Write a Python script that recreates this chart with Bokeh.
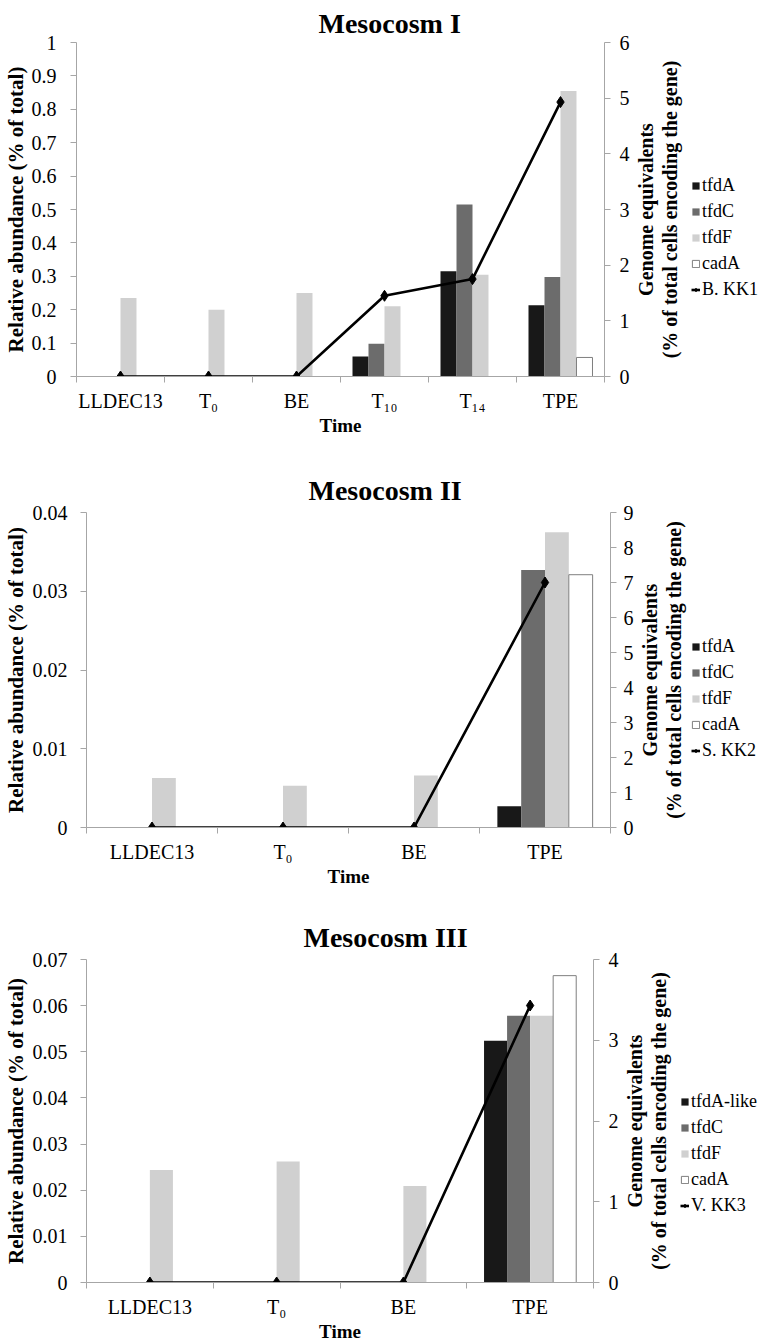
from bokeh.plotting import figure
from bokeh.models import (Range1d, LinearAxis, FixedTicker, Legend, LegendItem,
                          NumeralTickFormatter, Title)
from bokeh.layouts import column, row
from bokeh.embed import file_html
from bokeh.resources import INLINE

# ---------------- data ----------------
cats1 = ["LLDEC13", "T₀", "BE", "T₁₀", "T₁₄", "TPE"]
m1_tfdA = [0, 0, 0, 0.06, 0.315, 0.213]
m1_tfdC = [0, 0, 0, 0.098, 0.515, 0.298]
m1_tfdF = [0.235, 0.2, 0.25, 0.21, 0.305, 0.855]
m1_cadA = [0, 0, 0, 0, 0, 0.057]
m1_kk1 = [0, 0, 0, 1.45, 1.75, 4.93]

cats2 = ["LLDEC13", "T₀", "BE", "TPE"]
m2_tfdA = [0, 0, 0, 0.0027]
m2_tfdC = [0, 0, 0, 0.0327]
m2_tfdF = [0.0063, 0.0053, 0.0066, 0.0375]
m2_cadA = [0, 0, 0, 0.0321]
m2_kk2 = [0, 0, 0, 7.0]

cats3 = ["LLDEC13", "T₀", "BE", "TPE"]
m3_tfdA = [0, 0, 0, 0.0524]
m3_tfdC = [0, 0, 0, 0.0578]
m3_tfdF = [0.0244, 0.0262, 0.0209, 0.0578]
m3_cadA = [0, 0, 0, 0.0665]
m3_kk3 = [0, 0, 0, 3.43]

FONT = "Liberation Serif"
AX = "#a6a6a6"
COLORS = ["#181818", "#6c6c6c", "#d0d0d0", "#ffffff"]
OFFS = [-0.2727, -0.0909, 0.0909, 0.2727]
BW = 0.1818


def draw(p, n, series, kk):
    rends = []
    for vals, c, o in zip(series, COLORS, OFFS):
        xs = [i + 0.5 + o for i in range(n)]
        if c == "#ffffff":
            r = p.vbar(x=xs, top=vals, bottom=0, width=BW, fill_color=c,
                       line_color="#7f7f7f", line_width=1)
        else:
            r = p.vbar(x=xs, top=vals, bottom=0, width=BW, fill_color=c,
                       line_color=None)
        rends.append(r)
    xc = [i + 0.5 for i in range(n)]
    lr = p.line(x=xc, y=kk, y_range_name="r", line_color="black", line_width=2.6)
    sr = p.scatter(x=xc, y=kk, y_range_name="r", marker="diamond", size=11,
                   fill_color="black", line_color="black")
    return rends, lr, sr


def title_style(t, size, standoff):
    t.text_font = FONT
    t.text_font_size = size
    t.text_font_style = "bold"
    t.text_color = "black"
    t.standoff = standoff


def panel(title, cats, series, labels, kk, kk_label, ymax, yticks, rmax,
          fw, fh, left, top, right, title_std, title_off,
          ytl_std, ylab_std, rtl_std, side_w, leg_x, leg_y):
    n = len(cats)
    bottom = 62
    p = figure(frame_width=fw, frame_height=fh,
               x_range=Range1d(0, n), y_range=Range1d(0, ymax),
               output_backend="svg", toolbar_location=None,
               min_border_left=left, min_border_top=top,
               min_border_bottom=bottom, min_border_right=right)
    p.extra_y_ranges = {"r": Range1d(0, rmax)}
    p.outline_line_color = None
    p.xgrid.visible = False
    p.ygrid.visible = False
    p.title.text = title
    p.title.align = "left"
    p.title.offset = title_off
    title_style(p.title, "28px", title_std)

    draw(p, n, series, kk)
    xc = [i + 0.5 for i in range(n)]

    xa = p.xaxis[0]
    xa.ticker = FixedTicker(ticks=xc, minor_ticks=list(range(n + 1)))
    xa.major_label_overrides = {x: c for x, c in zip(xc, cats)}
    xa.major_tick_out = 0
    xa.major_tick_in = 0
    xa.minor_tick_out = 6
    xa.minor_tick_in = 0
    xa.axis_label = "Time"

    ya = p.yaxis[0]
    ya.ticker = FixedTicker(ticks=yticks)
    ya.formatter = NumeralTickFormatter(format="0.[00]")
    ya.axis_label = "Relative abundance (% of total)"

    ra = LinearAxis(y_range_name="r", ticker=FixedTicker(ticks=list(range(rmax + 1))),
                    formatter=NumeralTickFormatter(format="0"))
    p.add_layout(ra, "right")

    for a in [xa, ya, ra]:
        a.axis_line_color = AX
        a.major_tick_line_color = AX
        a.minor_tick_line_color = AX
        a.major_label_text_font = FONT
        a.major_label_text_font_size = "20px"
        a.major_label_text_color = "black"
        a.axis_label_text_font = FONT
        a.axis_label_text_font_size = "19px"
        a.axis_label_text_font_style = "bold"
        a.axis_label_text_color = "black"
    ya.axis_label_text_font_size = "21px"
    for a in [ya, ra]:
        a.minor_tick_line_color = None
        a.major_tick_out = 6
        a.major_tick_in = 0
    ya.major_label_standoff = ytl_std
    ya.axis_label_standoff = ylab_std
    ra.major_label_standoff = rtl_std
    xa.major_label_standoff = 7
    xa.axis_label_standoff = 0

    # side figure: right-axis title (reading upwards) and legend
    s = figure(frame_width=side_w, frame_height=fh,
               x_range=Range1d(-3, -2), y_range=Range1d(0, ymax),
               x_axis_location=None, y_axis_location=None,
               output_backend="svg", toolbar_location=None,
               min_border_left=0, min_border_top=top,
               min_border_bottom=bottom, min_border_right=0)
    s.extra_y_ranges = {"r": Range1d(0, rmax)}
    s.outline_line_color = None
    s.xgrid.visible = False
    s.ygrid.visible = False
    s.title.text = " "
    title_style(s.title, "28px", title_std)
    rends, lr, sr = draw(s, n, series, kk)
    t2 = Title(text="(% of total cells encoding the gene)", align="center")
    title_style(t2, "20px", 0)
    t1 = Title(text="Genome equivalents", align="center")
    title_style(t1, "20px", 0)
    s.add_layout(t2, "left")
    s.add_layout(t1, "left")

    items = [LegendItem(label=l, renderers=[r]) for l, r in zip(labels, rends)]
    items.append(LegendItem(label=kk_label, renderers=[lr, sr]))
    leg = Legend(items=items, location=(leg_x, leg_y),
                 glyph_width=9, glyph_height=9, label_height=22, spacing=4,
                 padding=0, label_standoff=2, margin=0,
                 background_fill_alpha=0, border_line_color=None)
    leg.label_text_font = FONT
    leg.label_text_font_size = "18px"
    leg.label_text_color = "black"
    s.add_layout(leg)
    return row(p, s, spacing=0)


r1 = panel("Mesocosm I", cats1, [m1_tfdA, m1_tfdC, m1_tfdF, m1_cadA],
           ["tfdA", "tfdC", "tfdF", "cadA"], m1_kk1, "B. KK1",
           1, [0, 0.1, 0.2, 0.3, 0.4, 0.5, 0.6, 0.7, 0.8, 0.9, 1], 6,
           528, 334, 72, 42, 25, 7, 242,
           14, 1, 9, 80, 11, 76)
r2 = panel("Mesocosm II", cats2, [m2_tfdA, m2_tfdC, m2_tfdF, m2_cadA],
           ["tfdA", "tfdC", "tfdF", "cadA"], m2_kk2, "S. KK2",
           0.04, [0, 0.01, 0.02, 0.03, 0.04], 9,
           524, 315, 86, 74, 23, 14, 222,
           13, 2, 7, 75, 7, 66)
r3 = panel("Mesocosm III", cats3, [m3_tfdA, m3_tfdC, m3_tfdF, m3_cadA],
           ["tfdA-like", "tfdC", "tfdF", "cadA"], m3_kk3, "V. KK3",
           0.07, [0, 0.01, 0.02, 0.03, 0.04, 0.05, 0.06, 0.07], 4,
           507, 323, 86, 70, 25, 14, 217,
           13, 2, 9, 88, 11, 66)

layout = column(r1, r2, r3, spacing=0)
open("out.html", "w").write(file_html(layout, INLINE))
